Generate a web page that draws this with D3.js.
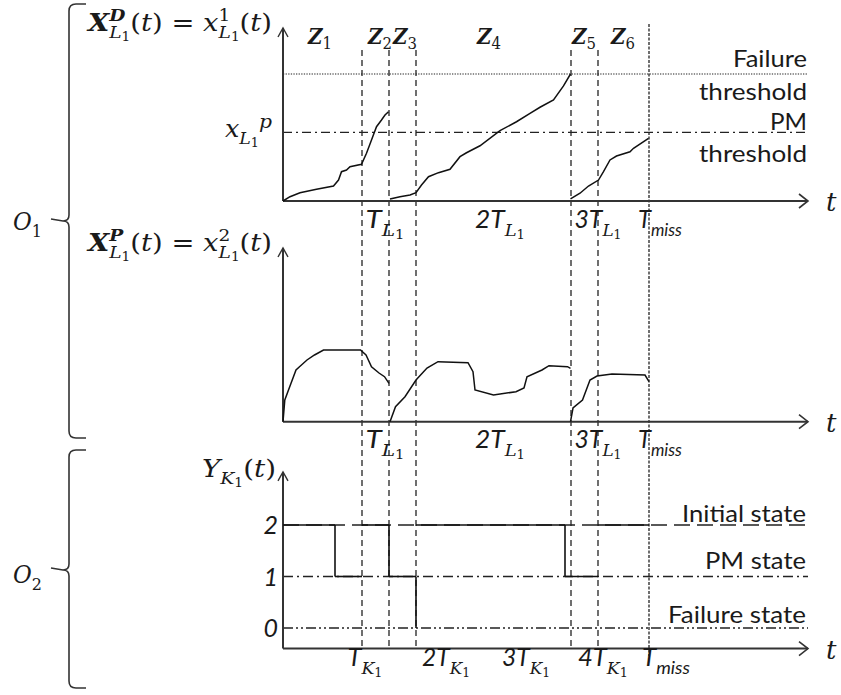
<!DOCTYPE html>
<html><head><meta charset="utf-8">
<script src="https://cdn.jsdelivr.net/npm/d3@7"></script>
<style>body{margin:0;background:#fff}svg{display:block}</style>
</head><body>
<svg id="c" width="841" height="695"></svg>
<script>
// ---------------- data ----------------
// time unit: arbitrary schematic units along t
const eventTimes = [15.8, 21.2, 26.6, 57.6, 63.0];   // dashed vertical lines
const missTime = 73.2;                                // T_miss
const zoneLabels = ["1","2","3","4","5","6"];
const zoneLabelTimes = [5.0, 17.0, 22.0, 38.8, 57.8, 65.6];
const failureThreshold = 1.0;
const pmThreshold = 0.54;
// degradation indicator x^1 (top panel), three renewal cycles
const topCurve1 = [[0,0],[1.4,0.034],[3.4,0.065],[6.7,0.092],[10.1,0.118],[11.1,0.165],[11.7,0.231],[12.7,0.244],[13.4,0.27],[15.7,0.289],[16.7,0.376],[17.7,0.48],[18.7,0.585],[19.7,0.638],[20.4,0.677],[21.1,0.703]];
const topCurve2 = [[21.4,0.016],[23.4,0.034],[25.4,0.047],[26.6,0.065],[27.7,0.126],[29.1,0.191],[31.1,0.223],[33.4,0.25],[35.4,0.349],[36.7,0.38],[39.4,0.435],[43.4,0.554],[46.7,0.624],[49.4,0.69],[51.4,0.738],[54.1,0.795],[56.1,0.906],[57.5,1.0]];
const topCurve3 = [[57.5,0.016],[59.4,0.061],[61.1,0.118],[63.1,0.165],[64.1,0.231],[65.4,0.323],[66.7,0.354],[69.4,0.388],[70.1,0.415],[73.1,0.494]];
// performance indicator x^2 (middle panel)
const midCurve1 = [[0,0],[0.36,0.217],[1.1,0.317],[2.6,0.517],[3.3,0.55],[4.8,0.617],[6.3,0.667],[8.1,0.717],[15.5,0.717],[16.6,0.667],[17.7,0.55],[19.2,0.487],[20.3,0.45],[21.2,0.384]];
const midCurve2 = [[21.4,0],[22.5,0.15],[24.4,0.25],[26.6,0.417],[28.8,0.537],[31,0.6],[37,0.59],[38,0.5],[38.4,0.317],[42.1,0.267],[46.6,0.3],[48.2,0.337],[48.8,0.45],[51.8,0.517],[53.2,0.56],[56.9,0.55],[57.5,0.534]];
const midCurve3 = [[57.5,0],[58,0.137],[59.9,0.217],[61.4,0.417],[62.8,0.457],[65.8,0.477],[72.4,0.467],[73.2,0.4]];
// state process Y (bottom panel): [start, end, state]
const stateIntervals = [[0,10.4,2],[10.4,15.8,1],[15.8,21.2,2],[21.2,26.6,1],[26.6,56.4,2],[56.4,63.0,1],[63.0,73.2,2]];
const stateDrops = [[10.4,2,1],[21.2,2,1],[26.6,1,0],[56.4,2,1]];
const stateLevels = [2,1,0];
const stateNames = ["Initial state","PM state","Failure state"];
// tick labels
const topTickPre = ["", "2", "3"];
const topTickTimes = [20.4, 43.4, 63.0];
const topMissLabelTime = 75.4;
const botTickPre = ["", "2", "3", "4"];
const botTickTimes = [16.4, 32.6, 48.6, 64.0];
const botMissLabelTime = 76.6;

// ---------------- setup ----------------
const INK = "#1a1a1a";
const SERIF = "'DejaVu Serif', serif";
const SANS = "Lato, 'Open Sans', sans-serif";
const NB = "\u00a0";
const svg = d3.select("#c");

const x = d3.scaleLinear().domain([0,105]).range([283,808]);
const yTop = d3.scaleLinear().domain([0,1]).range([201,74]);
const yMid = d3.scaleLinear().domain([0,1]).range([421.7,321.7]);
const yBot = d3.scaleLinear().domain([0,2]).range([628,525]);
const topAxisMax = 1.362, midAxisMax = 1.737, botAxisMin = -0.4, botAxisMax = 3.03;

function richText(parent, px, py, parts, opts) {
  const fs = opts.fs, fam = opts.family || SERIF;
  const g = parent.append("g");
  let cx = 0;
  function put(p, dy, size) {
    const t = g.append("text").attr("x", cx).attr("y", dy + (p.ddy || 0))
      .attr("font-family", p.f || fam).attr("font-size", size)
      .attr("font-style", p.i ? "italic" : "normal")
      .attr("font-weight", p.b ? "bold" : "normal")
      .attr("fill", INK).text(p.t);
    cx += t.node().getComputedTextLength() + (p.dx || 0);
  }
  parts.forEach(p => {
    if (p.stack) {
      const start = cx; let maxEnd = cx;
      p.stack.forEach((seq, k) => {
        cx = start;
        seq.forEach(q => put(q, k === 0 ? -fs*0.42 : fs*0.3, fs*(q.s || 0.68)));
        maxEnd = Math.max(maxEnd, cx);
      });
      cx = maxEnd;
    } else if (p.sub) {
      p.sub.forEach(q => put(q, fs*0.3, fs*(q.s || 0.68)));
    } else if (p.sup) {
      p.sup.forEach(q => put(q, -fs*0.42, fs*(q.s || 0.68)));
    } else put(p, 0, fs*(p.s || 1));
  });
  const w = cx, W = opts.width || w, sx = W / w;
  let x0 = px;
  if (opts.anchor === "middle") x0 = px - W/2;
  if (opts.anchor === "end") x0 = px - W;
  g.attr("transform", `translate(${x0},${py}) scale(${sx},1)`);
  return g;
}

function hArrow(y0, x0, x1) {
  svg.append("line").attr("x1", x0).attr("x2", x1).attr("y1", y0).attr("y2", y0)
    .attr("stroke", "#333").attr("stroke-width", 2);
  svg.append("path").attr("d", `M${x1-9},${y0-7}L${x1},${y0}L${x1-9},${y0+7}`)
    .attr("fill", "none").attr("stroke", "#333").attr("stroke-width", 1.6);
}
function vArrow(xx, y0, y1) {
  svg.append("line").attr("x1", xx).attr("x2", xx).attr("y1", y0).attr("y2", y1)
    .attr("stroke", "#333").attr("stroke-width", 2);
  svg.append("path").attr("d", `M${xx-5},${y1+9}L${xx},${y1}L${xx+5},${y1+9}`)
    .attr("fill", "none").attr("stroke", "#333").attr("stroke-width", 1.4);
}

// ---------------- vertical event lines ----------------
eventTimes.forEach(t => {
  svg.append("line").attr("x1", x(t)).attr("x2", x(t)).attr("y1", 50).attr("y2", yBot(botAxisMin))
    .attr("stroke", "#222").attr("stroke-width", 1.3).attr("stroke-dasharray", "6,4");
});
svg.append("line").attr("x1", x(missTime)).attr("x2", x(missTime)).attr("y1", 24).attr("y2", 656)
  .attr("stroke", "#222").attr("stroke-width", 1.3).attr("stroke-dasharray", "3,1.5");

// ---------------- top panel ----------------
svg.append("line").attr("x1", x(0)).attr("x2", x(105)).attr("y1", yTop(failureThreshold)).attr("y2", yTop(failureThreshold))
  .attr("stroke", "#222").attr("stroke-width", 1.2).attr("stroke-dasharray", "1.3,1.3");
svg.append("line").attr("x1", x(0)).attr("x2", x(105)).attr("y1", yTop(pmThreshold)).attr("y2", yTop(pmThreshold))
  .attr("stroke", "#222").attr("stroke-width", 1.2).attr("stroke-dasharray", "9,4,2,4");
vArrow(x(0), yTop(0), yTop(topAxisMax));
hArrow(yTop(0), x(0), x(105));
const lineTop = d3.line().x(d => x(d[0])).y(d => yTop(d[1]));
[topCurve1, topCurve2, topCurve3].forEach(c => svg.append("path").attr("d", lineTop(c))
  .attr("fill", "none").attr("stroke", "#111").attr("stroke-width", 1.5));

// ---------------- middle panel ----------------
vArrow(x(0), yMid(0), yMid(midAxisMax));
hArrow(yMid(0), x(0), x(105));
const lineMid = d3.line().x(d => x(d[0])).y(d => yMid(d[1]));
[midCurve1, midCurve2, midCurve3].forEach(c => svg.append("path").attr("d", lineMid(c))
  .attr("fill", "none").attr("stroke", "#111").attr("stroke-width", 1.5));

// ---------------- bottom panel ----------------
const levelDash = {2: "16,7", 1: "10,4,2,4", 0: "10,3,2,3,2,3"};
stateLevels.forEach(l => svg.append("line").attr("x1", x(0)).attr("x2", x(105))
  .attr("y1", yBot(l)).attr("y2", yBot(l)).attr("stroke", "#222").attr("stroke-width", 1.3)
  .attr("stroke-dasharray", levelDash[l]));
vArrow(x(0), yBot(botAxisMin), yBot(botAxisMax));
hArrow(yBot(botAxisMin), x(0), x(105));
stateIntervals.forEach(s => svg.append("line").attr("x1", x(s[0])).attr("x2", x(s[1]))
  .attr("y1", yBot(s[2])).attr("y2", yBot(s[2])).attr("stroke", "#111").attr("stroke-width", 1.6));
stateDrops.forEach(s => svg.append("line").attr("x1", x(s[0])).attr("x2", x(s[0]))
  .attr("y1", yBot(s[1])).attr("y2", yBot(s[2])).attr("stroke", "#111").attr("stroke-width", 1.6));

// ---------------- texts ----------------
// formulas
richText(svg, 88, 31, [
  {t:"X", i:1, b:1},
  {stack:[[{t:"D", i:1, b:1}], [{t:"L", i:1}, {t:"1", s:0.5, ddy:3}]]},
  {t:"("}, {t:"t", i:1}, {t:")" + NB + "=" + NB}, {t:"x", i:1},
  {stack:[[{t:"1"}], [{t:"L", i:1}, {t:"1", s:0.5, ddy:3}]]},
  {t:"("}, {t:"t", i:1}, {t:")"}
], {fs:24, width:184});
richText(svg, 88, 251, [
  {t:"X", i:1, b:1},
  {stack:[[{t:"P", i:1, b:1}], [{t:"L", i:1}, {t:"1", s:0.5, ddy:3}]]},
  {t:"("}, {t:"t", i:1}, {t:")" + NB + "=" + NB}, {t:"x", i:1},
  {stack:[[{t:"2"}], [{t:"L", i:1}, {t:"1", s:0.5, ddy:3}]]},
  {t:"("}, {t:"t", i:1}, {t:")"}
], {fs:24, width:184});
richText(svg, 202, 477, [
  {t:"Y", i:1}, {sub:[{t:"K", i:1}, {t:"1", s:0.5, ddy:3}]},
  {t:"("}, {t:"t", i:1}, {t:")"}
], {fs:24, width:74});
richText(svg, 225, 137, [
  {t:"x", i:1}, {sub:[{t:"L", i:1}, {t:"1", s:0.5, ddy:3}]}, {t:"p", i:1, ddy:-9, s:0.8}
], {fs:24, width:47});

// zone labels
zoneLabels.forEach((z, k) => richText(svg, x(zoneLabelTimes[k]), 44, [
  {t:"Z", i:1, b:1}, {sub:[{t:z, s:0.75, ddy:-2}]}
], {fs:22, width:24}));

// O labels & braces
richText(svg, 13, 230, [{t:"O", i:1}, {sub:[{t:"1", s:0.7}]}], {fs:24, width:29});
richText(svg, 13, 583, [{t:"O", i:1}, {sub:[{t:"2", s:0.7}]}], {fs:24, width:29});
function brace(top, mid, bot) {
  const bx = 69;
  svg.append("path").attr("d",
    `M86,${top}L76,${top}Q${bx},${top} ${bx},${top+7}L${bx},${mid-6}Q${bx},${mid} ${bx-6},${mid}` +
    `L${bx-18},${mid-2}M${bx-6},${mid}Q${bx},${mid} ${bx},${mid+6}L${bx},${bot-7}Q${bx},${bot} 76,${bot}L86,${bot}`)
    .attr("fill", "none").attr("stroke", "#333").attr("stroke-width", 1.6);
}
brace(4, 221, 438);
brace(450, 570, 688);

// right-hand labels
const rightTexts = [["Failure", 67, 74], ["threshold", 100, 108], ["PM", 130, 37], ["threshold", 162, 108]];
rightTexts.forEach(r => svg.append("text").attr("x", 807).attr("y", r[1]).attr("text-anchor", "end")
  .attr("font-family", SANS).attr("font-size", 24).attr("fill", INK)
  .attr("textLength", r[2]).attr("lengthAdjust", "spacingAndGlyphs").text(r[0]));
const stateTextY = [522, 569, 623], stateTextW = [124, 101, 138];
stateNames.forEach((s, k) => svg.append("text").attr("x", 806).attr("y", stateTextY[k]).attr("text-anchor", "end")
  .attr("font-family", SANS).attr("font-size", 24).attr("fill", INK)
  .attr("textLength", stateTextW[k]).attr("lengthAdjust", "spacingAndGlyphs").text(s));
stateLevels.forEach(l => svg.append("text").attr("x", 278).attr("y", yBot(l)).attr("dy", "0.36em")
  .attr("text-anchor", "end").attr("font-family", SANS).attr("font-style", "italic")
  .attr("font-size", 25).attr("fill", INK).text(l));

// t labels
[yTop(0), yMid(0), yBot(botAxisMin)].forEach(yy => svg.append("text").attr("x", 826).attr("y", yy + 10)
  .attr("font-family", SERIF).attr("font-style", "italic").attr("font-size", 26).attr("fill", INK).text("t"));

// tick labels
const topTickW = [39, 50, 47];
[228, 448].forEach(by => {
  topTickPre.forEach((p, k) => richText(svg, x(topTickTimes[k]), by, [
    {t:p + "T", i:1, f:SANS}, {sub:[{t:"L", i:1}, {t:"1", s:0.5, ddy:3}]}
  ], {fs:25, anchor:"middle", width:topTickW[k]}));
  richText(svg, x(topMissLabelTime), by, [
    {t:"T", i:1, f:SANS}, {sub:[{t:"miss", i:1, f:SANS, s:0.72}]}
  ], {fs:25, anchor:"middle", width:44});
});
const botTickW = [35, 48, 48, 50];
botTickPre.forEach((p, k) => richText(svg, x(botTickTimes[k]), 666, [
  {t:p + "T", i:1, f:SANS}, {sub:[{t:"K", i:1}, {t:"1", s:0.5, ddy:3}]}
], {fs:25, anchor:"middle", width:botTickW[k]}));
richText(svg, x(botMissLabelTime), 666, [
  {t:"T", i:1, f:SANS}, {sub:[{t:"miss", i:1, f:SANS, s:0.72}]}
], {fs:25, anchor:"middle", width:48});
</script>
</body></html>
